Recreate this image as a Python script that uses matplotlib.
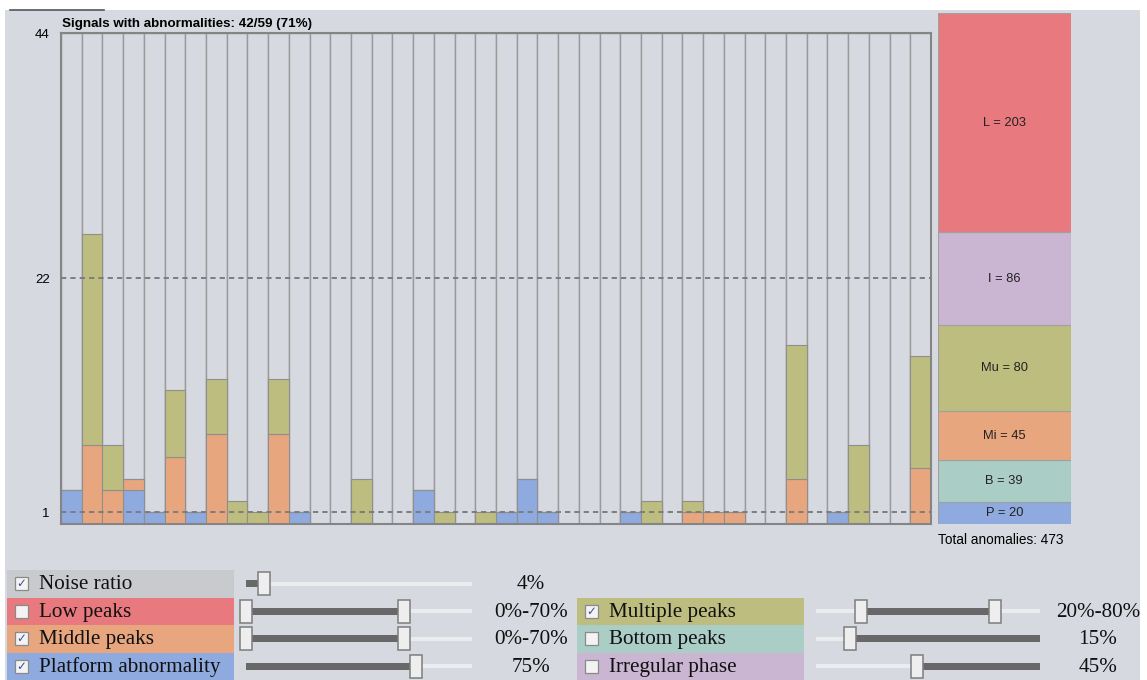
import matplotlib

matplotlib.use("Agg")
import matplotlib.pyplot as plt
from matplotlib.patches import Rectangle

W, H = 1147, 680  # taille de la figure en pixels (dpi 100)

# --- données du graphique principal (42 signaux avec anomalies) ---
platform = [3, 0, 0, 3, 1, 0, 1, 0, 0, 0, 0, 1, 0, 0, 0, 0, 0, 3, 0, 0, 0,
            1, 4, 1, 0, 0, 0, 1, 0, 0, 0, 0, 0, 0, 0, 0, 0, 1, 0, 0, 0, 0]
middle = [0, 7, 3, 1, 0, 6, 0, 8, 0, 0, 8, 0, 0, 0, 0, 0, 0, 0, 0, 0, 0,
          0, 0, 0, 0, 0, 0, 0, 0, 0, 1, 1, 1, 0, 0, 4, 0, 0, 0, 0, 0, 5]
multiple = [0, 19, 4, 0, 0, 6, 0, 5, 2, 1, 5, 0, 0, 0, 4, 0, 0, 0, 1, 0, 1,
            0, 0, 0, 0, 0, 0, 0, 2, 0, 1, 0, 0, 0, 0, 12, 0, 0, 7, 0, 0, 10]
y_max = 44
y_ticks = [1, 22, 44]
ref_lines = [1, 22]
title = "Signals with abnormalities: 42/59 (71%)"

# --- barre de synthèse ---
side_labels = ["P", "B", "Mi", "Mu", "I", "L"]
side_counts = [20, 39, 45, 80, 86, 203]
total_text = "Total anomalies: 473"

# --- panneau de contrôle ---
ctrl_labels = ["Noise ratio", "Low peaks", "Middle peaks", "Platform abnormality",
               "Multiple peaks", "Bottom peaks", "Irregular phase"]
ctrl_checked = [True, False, True, True, True, False, False]
ctrl_values = [(4,), (0, 70), (0, 70), (75,), (20, 80), (15,), (45,)]
ctrl_max = [50, 100, 100, 100, 100, 100, 100]
ctrl_fill = ["min", "range", "range", "min", "range", "max", "max"]
ctrl_text = ["4%", "0%-70%", "0%-70%", "75%", "20%-80%", "15%", "45%"]

# couleurs
BG = "#d6d9e0"
C_PLATFORM = "#8eaadf"
C_MIDDLE = "#e8a67e"
C_MULTIPLE = "#bdbd7f"
C_BOTTOM = "#aacdc5"
C_IRREG = "#cab5d2"
C_LOW = "#e8797e"
C_NOISE = "#c9cacd"
side_colors = [C_PLATFORM, C_BOTTOM, C_MIDDLE, C_MULTIPLE, C_IRREG, C_LOW]
ctrl_colors = [C_NOISE, C_LOW, C_MIDDLE, C_PLATFORM, C_MULTIPLE, C_BOTTOM, C_IRREG]

SANS = "Liberation Sans"
SERIF = "Liberation Serif"


def box(x0, y0, x1, y1):
    """Rectangle en pixels (origine en haut à gauche) -> coordonnées figure."""
    return [x0 / W, 1 - y1 / H, (x1 - x0) / W, (y1 - y0) / H]


fig = plt.figure(figsize=(W / 100, H / 100), dpi=100)
fig.patch.set_facecolor("white")

# fond + panneau de contrôle dessinés en pixels
ov = fig.add_axes([0, 0, 1, 1], zorder=0)
ov.set_xlim(0, W)
ov.set_ylim(H, 0)
ov.axis("off")
ov.add_patch(Rectangle((5, 10), 1135, 670, fc=BG, ec="none"))
ov.plot([10, 104], [10, 10], color="#555555", lw=1.2)

# --- graphique principal ---
ax = fig.add_axes(box(61, 33, 931, 523.5), zorder=1)
ax.set_facecolor("none")
n = len(platform)
xs = list(range(n))
ax.bar(xs, [y_max] * n, width=1, align="edge", color=BG, edgecolor="#9a9a9a", lw=1.0)
bottom = [0] * n
for vals, col in [(platform, C_PLATFORM), (middle, C_MIDDLE), (multiple, C_MULTIPLE)]:
    ax.bar(xs, vals, width=1, align="edge", bottom=bottom, color=col,
           edgecolor="#8f8f8f", lw=0.8)
    bottom = [b + v for b, v in zip(bottom, vals)]
for yv in ref_lines:
    ax.axhline(yv, color="#7d7d7d", lw=1.4, ls=(0, (2.7, 2.1)), zorder=5)
ax.set_xlim(0, n)
ax.set_ylim(0, y_max)
ax.set_xticks([])
ax.set_yticks(y_ticks)
ax.set_yticklabels([str(t) for t in y_ticks], fontsize=9.5, family=SANS)
ax.tick_params(axis="y", length=0, pad=8)
for sp in ax.spines.values():
    sp.set_color("#858585")
    sp.set_linewidth(1.5)
fig.text(62 / W, 1 - 24 / H, title, fontsize=9.6, fontweight="bold", family=SANS,
         va="center", ha="left")

# --- barre de synthèse ---
sx = fig.add_axes(box(937.5, 13, 1071, 523.5), zorder=1)
sx.set_facecolor("none")
total = sum(side_counts)
base = 0
for lab, cnt, col in zip(side_labels, side_counts, side_colors):
    sx.bar(0, cnt, width=1, align="edge", bottom=base, color=col,
           edgecolor="#a0a0a0", lw=0.8)
    sx.text(0.5, base + cnt / 2, f"{lab} = {cnt}", ha="center", va="center",
            fontsize=9.3, family=SANS, color="#222222")
    base += cnt
sx.set_xlim(0, 1)
sx.set_ylim(0, total)
sx.axis("off")
fig.text(938 / W, 1 - 540 / H, total_text, fontsize=9.8, family=SANS, va="center", ha="left")

# --- panneau de contrôle ---
row_tops = [570, 597.5, 625, 652.5]
row_h = 27.5
cols = [
    dict(box=(7, 234), chk=15, txt=39, track=(246, 472), val=531),
    dict(box=(577, 804), chk=585, txt=609, track=(816, 1040), val=1098),
]
for i, lab in enumerate(ctrl_labels):
    c = cols[0] if i < 4 else cols[1]
    top = row_tops[i] if i < 4 else row_tops[i - 3]
    yc = top + row_h / 2
    ov.add_patch(Rectangle((c["box"][0], top), c["box"][1] - c["box"][0], row_h,
                           fc=ctrl_colors[i], ec="none"))
    ov.add_patch(Rectangle((c["chk"], yc - 6.5), 13, 13, fc="#f3f3f3", ec="#8a8a8a", lw=0.9))
    if ctrl_checked[i]:
        ov.text(c["chk"] + 6.5, yc, "\u2713", ha="center", va="center", fontsize=8.5,
                color="#3a4f8f", family="DejaVu Sans", fontweight="bold")
    ov.text(c["txt"], yc + 1, lab, ha="left", va="center", fontsize=15.2, family=SERIF,
            color="#111111")

    # curseur
    t0, t1 = c["track"]
    tw = t1 - t0
    ov.add_patch(Rectangle((t0, yc - 2), tw, 4, fc="#ebecef", ec="none"))
    pos = [t0 + v / ctrl_max[i] * tw for v in ctrl_values[i]]
    if ctrl_fill[i] == "min":
        d0, d1 = t0, pos[0]
    elif ctrl_fill[i] == "max":
        d0, d1 = pos[0], t1
    else:
        d0, d1 = pos[0], pos[1]
    ov.add_patch(Rectangle((d0, yc - 3.5), d1 - d0, 7, fc="#686868", ec="none"))
    for p in pos:
        ov.add_patch(Rectangle((p - 6, yc - 11.5), 12, 23, fc="#eeeeee", ec="#7d7d7d", lw=1.1))
    ov.text(c["val"], yc + 1, ctrl_text[i], ha="center", va="center", fontsize=15.2,
            family=SERIF, color="#111111")

fig.savefig("out.png", dpi=100)
